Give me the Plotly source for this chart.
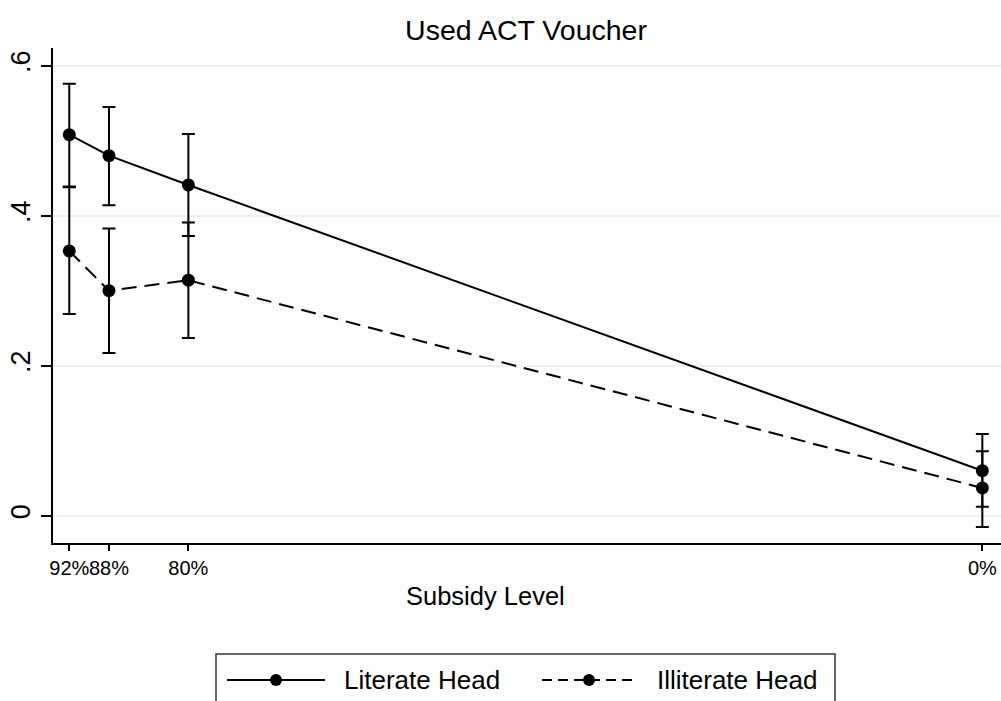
import plotly.graph_objects as go

# ── Data ──────────────────────────────────────────────────────────────────────
subsidy = [92, 88, 80, 0]
subsidy_labels = ["92%", "88%", "80%", "0%"]

literate_mean = [0.508, 0.480, 0.441, 0.060]
literate_hi = [0.576, 0.545, 0.509, 0.109]
literate_lo = [0.439, 0.414, 0.373, 0.012]

illiterate_mean = [0.353, 0.300, 0.314, 0.037]
illiterate_hi = [0.438, 0.383, 0.391, 0.086]
illiterate_lo = [0.269, 0.217, 0.237, -0.015]

y_ticks = [0, 0.2, 0.4, 0.6]
y_tick_labels = ["0", ".2", ".4", ".6"]

# ── Style ─────────────────────────────────────────────────────────────────────
FONT = "Liberation Sans, Arial, sans-serif"
INK = "#000000"
GRID = "#eaf2f3"
W, H = 1001, 701
L, R, T, B = 53, 0, 48, 158
PW, PH = W - L - R, H - T - B


def px_x(px):
    return (px - L) / PW


def px_y(py):
    return (H - B - py) / PH


def series(x, mean, hi, lo, dash, name):
    return go.Scatter(
        x=x, y=mean, name=name, mode="lines+markers",
        line=dict(color=INK, width=2, dash=dash),
        marker=dict(color=INK, size=13, symbol="circle"),
        error_y=dict(
            type="data", symmetric=False,
            array=[h - m for h, m in zip(hi, mean)],
            arrayminus=[m - l for m, l in zip(mean, lo)],
            color=INK, thickness=2, width=6.5,
        ),
        showlegend=False,
    )


fig = go.Figure()
fig.add_trace(series(subsidy, literate_mean, literate_hi, literate_lo, "solid", "Literate Head"))
fig.add_trace(series(subsidy, illiterate_mean, illiterate_hi, illiterate_lo, "15px,8px", "Illiterate Head"))

# ── Manual legend (Stata style box) ───────────────────────────────────────────
shapes = [dict(type="rect", xref="paper", yref="paper",
               x0=px_x(216), x1=px_x(835), y0=px_y(654), y1=px_y(730),
               line=dict(color="#333333", width=1.5), fillcolor="white")]
ly = px_y(680)
legend_items = [
    (227, 325, 276, "solid", "Literate Head", 342),
    (542, 638, 589, "10px,6px", "Illiterate Head", 655),
]
annotations = []
for x0, x1, xm, dash, label, tx in legend_items:
    shapes.append(dict(type="line", xref="paper", yref="paper",
                       x0=px_x(x0), x1=px_x(x1), y0=ly, y1=ly,
                       line=dict(color=INK, width=2, dash=dash)))
    shapes.append(dict(type="circle", xref="paper", yref="paper",
                       xsizemode="pixel", ysizemode="pixel",
                       xanchor=px_x(xm), yanchor=ly,
                       x0=-6, x1=6, y0=-6, y1=6,
                       line=dict(color=INK, width=0), fillcolor=INK))
    annotations.append(dict(text=label, xref="paper", yref="paper",
                            x=px_x(tx), y=ly, xanchor="left", yanchor="middle",
                            showarrow=False, font=dict(family=FONT, size=26, color=INK)))

annotations.append(dict(text="Subsidy Level", xref="paper", yref="paper",
                        x=px_x(485.5), y=px_y(596), xanchor="center", yanchor="middle",
                        showarrow=False, font=dict(family=FONT, size=25.5, color=INK)))

fig.update_layout(
    width=W, height=H,
    margin=dict(l=L, r=R, t=T, b=B),
    plot_bgcolor="white", paper_bgcolor="white",
    font=dict(family=FONT, color=INK),
    title=dict(text="Used ACT Voucher", x=px_x(526), xref="paper", xanchor="center",
               y=1 - 30 / H, yanchor="middle", font=dict(family=FONT, size=28.5, color=INK)),
    xaxis=dict(
        range=[93.64, -1.88], tickmode="array", tickvals=subsidy, ticktext=subsidy_labels,
        showgrid=False, zeroline=False, showline=True, linecolor=INK, linewidth=1.5,
        ticks="outside", ticklen=6, tickwidth=1.5, tickcolor=INK, tickangle=0,
        ticklabelstandoff=0,
        tickfont=dict(family=FONT, size=20, color=INK),
    ),
    yaxis=dict(
        range=[-0.0364, 0.6236], tickmode="array", tickvals=y_ticks, ticktext=y_tick_labels,
        showgrid=True, gridcolor=GRID, gridwidth=1.5, zeroline=False,
        showline=True, linecolor=INK, linewidth=1.5,
        ticks="outside", ticklen=10, tickwidth=1.5, tickcolor=INK, tickangle=-90,
        ticklabelstandoff=0,
        tickfont=dict(family=FONT, size=27, color=INK),
    ),
    shapes=shapes,
    annotations=annotations,
)

# page body margin would offset the figure inside the 1001x701 window
fig.write_html("out.html", config={"displayModeBar": False},
               post_script="document.body.style.margin='0';")
